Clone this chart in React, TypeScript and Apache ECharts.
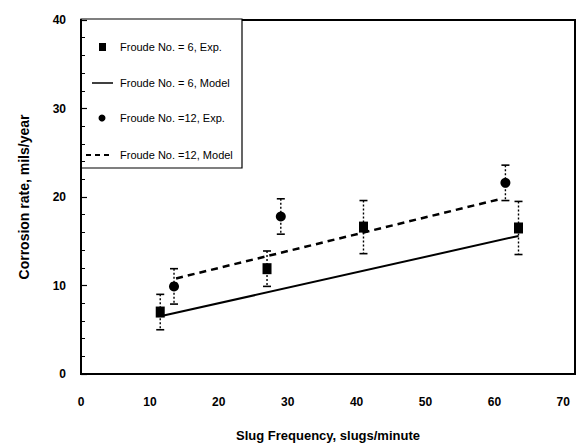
import React, { useEffect, useRef } from "react";
import * as echarts from "echarts";

// Froude No. = 6, experimental
const exp6X = [11.5, 27, 41, 63.5];
const exp6Y = [7, 11.9, 16.6, 16.5];
const exp6Err = [2, 2, 3, 3];
// Froude No. = 12, experimental
const exp12X = [13.5, 29, 61.6];
const exp12Y = [9.9, 17.8, 21.6];
const exp12Err = [2, 2, 2];
// Model lines
const model6X = [12, 63.5];
const model6Y = [6.6, 15.6];
const model12X = [13.8, 61];
const model12Y = [10.8, 19.8];

const legendLabels = [
  "Froude No. = 6, Exp.",
  "Froude No. = 6, Model",
  "Froude No. =12, Exp.",
  "Froude No. =12, Model",
];

const xTicks = [0, 10, 20, 30, 40, 50, 60, 70];

const FONT = "'Liberation Sans', Arial, sans-serif";

function errRender(params: any, api: any) {
  const x = api.value(0);
  const lo = api.value(1);
  const hi = api.value(2);
  const pHi = api.coord([x, hi]);
  const pLo = api.coord([x, lo]);
  const cap = 4;
  return {
    type: "group",
    children: [
      {
        type: "line",
        shape: { x1: pHi[0], y1: pHi[1], x2: pLo[0], y2: pLo[1] },
        style: { stroke: "#000", lineWidth: 1.4, lineDash: [2, 2] },
      },
      {
        type: "line",
        shape: { x1: pHi[0] - cap, y1: pHi[1], x2: pHi[0] + cap, y2: pHi[1] },
        style: { stroke: "#000", lineWidth: 1.6 },
      },
      {
        type: "line",
        shape: { x1: pLo[0] - cap, y1: pLo[1], x2: pLo[0] + cap, y2: pLo[1] },
        style: { stroke: "#000", lineWidth: 1.6 },
      },
    ],
  };
}

export default function App() {
  const ref = useRef<HTMLDivElement>(null);
  useEffect(() => {
    document.body.style.margin = "0";
    const chart = echarts.init(ref.current!, undefined, { renderer: "svg" });
    const pts = (xs: number[], ys: number[]) => xs.map((x, i) => [x, ys[i]]);
    const errs = (xs: number[], ys: number[], es: number[]) =>
      xs.map((x, i) => [x, ys[i] - es[i], ys[i] + es[i]]);

    const lx = 81, ly = 19;
    const rowY = [47, 83, 118, 155];
    chart.setOption({
      animation: false,
      backgroundColor: "#fff",
      grid: {
        left: 81,
        top: 20,
        right: 13,
        bottom: 71,
        show: true,
        borderColor: "#000",
        borderWidth: 2,
      },
      xAxis: {
        type: "value",
        min: 0,
        max: 71.7,
        interval: 10,
        name: "Slug Frequency, slugs/minute",
        nameLocation: "middle",
        nameGap: 55,
        nameTextStyle: { fontFamily: FONT, fontWeight: "bold", fontSize: 13, color: "#000" },
        axisLine: { lineStyle: { color: "#000", width: 2 } },
        axisTick: { show: false },
        splitLine: { show: false },
        axisLabel: {
          margin: 22,
          fontFamily: FONT,
          fontWeight: "bold",
          fontSize: 12,
          color: "#000",
          showMaxLabel: false,
          formatter: (v: number) => (xTicks.includes(v) ? String(v) : ""),
        },
      },
      yAxis: {
        type: "value",
        min: 0,
        max: 40,
        interval: 10,
        name: "Corrosion rate, mils/year",
        nameLocation: "middle",
        nameGap: 50,
        nameTextStyle: { fontFamily: FONT, fontWeight: "bold", fontSize: 14, color: "#000" },
        axisLine: { lineStyle: { color: "#000", width: 2 } },
        axisTick: { inside: true, length: 6, lineStyle: { color: "#000", width: 1.2 } },
        minorTick: { show: true, splitNumber: 5, length: 4, lineStyle: { color: "#000", width: 1 } },
        splitLine: { show: false },
        minorSplitLine: { show: false },
        axisLabel: {
          margin: 15,
          fontFamily: FONT,
          fontWeight: "bold",
          fontSize: 12,
          color: "#000",
        },
      },
      series: [
        {
          name: legendLabels[1],
          type: "line",
          data: pts(model6X, model6Y),
          symbol: "none",
          lineStyle: { color: "#000", width: 2 },
          z: 2,
        },
        {
          name: legendLabels[3],
          type: "line",
          data: pts(model12X, model12Y),
          symbol: "none",
          lineStyle: { color: "#000", width: 2.5, type: [7, 5] },
          z: 2,
        },
        {
          type: "custom",
          renderItem: errRender,
          encode: { x: 0, y: [1, 2] },
          data: errs(exp6X, exp6Y, exp6Err),
          z: 3,
        },
        {
          type: "custom",
          renderItem: errRender,
          encode: { x: 0, y: [1, 2] },
          data: errs(exp12X, exp12Y, exp12Err),
          z: 3,
        },
        {
          name: legendLabels[0],
          type: "scatter",
          data: pts(exp6X, exp6Y),
          symbol: "rect",
          symbolSize: [9, 11],
          itemStyle: { color: "#000", opacity: 1 },
          z: 4,
        },
        {
          name: legendLabels[2],
          type: "scatter",
          data: pts(exp12X, exp12Y),
          symbol: "circle",
          symbolSize: 10,
          itemStyle: { color: "#000", opacity: 1 },
          z: 4,
        },
      ],
      graphic: [
        {
          type: "group",
          z: 100,
          children: [
            {
              type: "rect",
              shape: { x: lx, y: ly, width: 161, height: 149 },
              style: { fill: "#fff", stroke: "#000", lineWidth: 1.2 },
            },
            {
              type: "rect",
              shape: { x: 99, y: rowY[0] - 4, width: 7, height: 8 },
              style: { fill: "#000" },
            },
            {
              type: "line",
              shape: { x1: 92, y1: rowY[1], x2: 113, y2: rowY[1] },
              style: { stroke: "#000", lineWidth: 1.5 },
            },
            {
              type: "circle",
              shape: { cx: 102, cy: rowY[2], r: 3.5 },
              style: { fill: "#000" },
            },
            {
              type: "line",
              shape: { x1: 86, y1: rowY[3], x2: 113, y2: rowY[3] },
              style: { stroke: "#000", lineWidth: 1.8, lineDash: [5, 4] },
            },
            ...legendLabels.map((t, i) => ({
              type: "text",
              x: 120,
              y: rowY[i],
              style: {
                text: t,
                fontFamily: "'Liberation Sans Narrow', 'Liberation Sans', Arial, sans-serif",
                fontSize: 11,
                fill: "#000",
                textVerticalAlign: "middle",
                verticalAlign: "middle",
              },
            })),
          ],
        },
      ],
    });
    return () => chart.dispose();
  }, []);
  return (
    <div
      ref={ref}
      style={{ position: "fixed", left: 0, top: 0, width: 588, height: 447, background: "#fff" }}
    />
  );
}
